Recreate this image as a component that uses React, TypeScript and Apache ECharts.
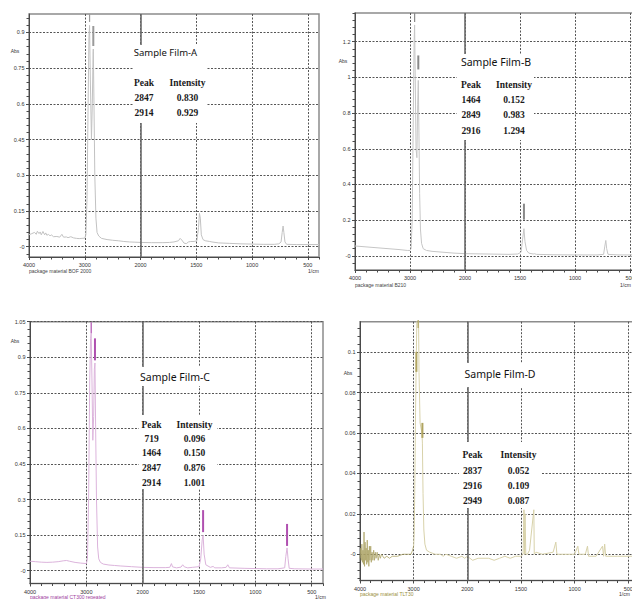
import React, { useEffect, useRef } from "react";
import * as echarts from "echarts";

// ---------- axis ticks ----------
const xTickWaves = [4000, 3000, 2000, 1500, 1000, 500];
const aYTicks = [0, 0.15, 0.3, 0.45, 0.6, 0.75, 0.9];
const bYTicks = [0, 0.2, 0.4, 0.6, 0.8, 1, 1.2];
const cYTicks = [0, 0.15, 0.3, 0.45, 0.6, 0.75, 0.9, 1.05];
const dYTicks = [0, 0.02, 0.04, 0.06, 0.08, 0.1];

// ---------- Sample Film-A ----------
const aWave = [4000, 3950, 3900, 3870, 3850, 3820, 3800, 3780, 3750, 3720, 3700, 3680, 3650, 3620, 3600, 3560, 3500, 3450, 3410, 3380, 3330, 3300, 3250, 3200, 3150, 3100, 3050, 3000, 2980, 2960, 2940, 2925, 2914, 2900, 2880, 2865, 2850, 2847, 2835, 2820, 2800, 2780, 2750, 2700, 2600, 2500, 2400, 2300, 2200, 2100, 2000, 1900, 1800, 1740, 1700, 1660, 1645, 1630, 1610, 1590, 1570, 1550, 1520, 1495, 1480, 1472, 1464, 1455, 1440, 1420, 1380, 1360, 1300, 1200, 1100, 1000, 900, 800, 760, 740, 730, 722, 715, 705, 690, 600, 500, 400];
const aAbs = [0.05, 0.055, 0.06, 0.052, 0.065, 0.055, 0.062, 0.05, 0.064, 0.05, 0.058, 0.048, 0.052, 0.045, 0.05, 0.042, 0.043, 0.04, 0.052, 0.04, 0.041, 0.038, 0.042, 0.037, 0.035, 0.034, 0.035, 0.036, 0.05, 0.2, 0.6, 0.88, 0.929, 0.7, 0.45, 0.6, 0.82, 0.83, 0.6, 0.3, 0.12, 0.06, 0.045, 0.035, 0.03, 0.027, 0.025, 0.022, 0.02, 0.019, 0.018, 0.017, 0.017, 0.018, 0.02, 0.025, 0.035, 0.028, 0.015, 0.013, 0.02, 0.022, 0.022, 0.025, 0.08, 0.14, 0.12, 0.05, 0.03, 0.025, 0.022, 0.02, 0.016, 0.014, 0.012, 0.011, 0.01, 0.01, 0.012, 0.02, 0.06, 0.087, 0.06, 0.02, 0.01, 0.009, 0.009, 0.009];
const aPeaks = [2847, 2914];
const aPeakAbs = [0.83, 0.929];

// ---------- Sample Film-B ----------
const bWave = [4000, 3800, 3600, 3400, 3200, 3050, 3000, 2980, 2960, 2940, 2925, 2916, 2905, 2890, 2875, 2860, 2849, 2838, 2825, 2810, 2790, 2760, 2700, 2600, 2400, 2200, 2000, 1800, 1600, 1520, 1490, 1475, 1464, 1455, 1440, 1420, 1380, 1370, 1350, 1200, 1000, 800, 740, 730, 720, 712, 700, 600, 400];
const bAbs = [0.055, 0.05, 0.045, 0.04, 0.035, 0.03, 0.03, 0.04, 0.2, 0.8, 1.2, 1.294, 1.0, 0.6, 0.55, 0.85, 0.983, 0.7, 0.35, 0.15, 0.07, 0.04, 0.03, 0.025, 0.02, 0.015, 0.012, 0.01, 0.008, 0.01, 0.02, 0.1, 0.152, 0.08, 0.03, 0.015, 0.01, 0.012, 0.008, 0.006, 0.005, 0.005, 0.008, 0.05, 0.086, 0.04, 0.008, 0.005, 0.005];
const bPeaks = [1464, 2849, 2916];
const bPeakAbs = [0.152, 0.983, 1.294];

// ---------- Sample Film-C ----------
const cWave = [4000, 3900, 3800, 3700, 3600, 3500, 3400, 3350, 3300, 3200, 3100, 3000, 2980, 2960, 2940, 2925, 2914, 2900, 2885, 2870, 2858, 2847, 2835, 2820, 2800, 2780, 2750, 2700, 2600, 2500, 2400, 2200, 2000, 1900, 1800, 1760, 1745, 1735, 1700, 1660, 1645, 1630, 1600, 1560, 1500, 1485, 1472, 1464, 1455, 1440, 1400, 1375, 1360, 1300, 1260, 1245, 1230, 1100, 1000, 900, 800, 740, 730, 719, 710, 700, 650, 500, 400];
const cAbs = [0.04, 0.038, 0.036, 0.035, 0.036, 0.038, 0.042, 0.043, 0.04, 0.035, 0.032, 0.03, 0.05, 0.3, 0.8, 0.98, 1.001, 0.8, 0.55, 0.65, 0.85, 0.876, 0.6, 0.3, 0.1, 0.05, 0.035, 0.028, 0.024, 0.022, 0.02, 0.017, 0.014, 0.013, 0.013, 0.014, 0.03, 0.016, 0.012, 0.015, 0.025, 0.016, 0.012, 0.014, 0.017, 0.05, 0.13, 0.15, 0.07, 0.025, 0.014, 0.018, 0.012, 0.012, 0.014, 0.025, 0.012, 0.01, 0.009, 0.008, 0.008, 0.012, 0.06, 0.096, 0.05, 0.01, 0.008, 0.007, 0.007];
const cPeaks = [719, 1464, 2847, 2914];
const cPeakAbs = [0.096, 0.15, 0.876, 1.001];

// ---------- Sample Film-D ----------
const dNoiseWave = [4000, 3985, 3975, 3965, 3955, 3945, 3935, 3925, 3915, 3905, 3895, 3885, 3875, 3865, 3855, 3845, 3835, 3825, 3815, 3800, 3790, 3775, 3760, 3745, 3730, 3715, 3700, 3680, 3660, 3640, 3620, 3600, 3550, 3500, 3450, 3400, 3300, 3200, 3100, 3050, 3020, 3000];
const dNoiseAbs = [-0.002, 0.003, -0.003, 0.005, -0.004, 0.002, -0.005, 0.011, -0.006, 0.006, -0.003, 0.003, -0.005, 0.007, -0.004, 0.002, -0.006, 0.004, -0.003, 0.004, -0.004, 0.001, -0.003, 0.002, -0.003, 0.001, -0.002, 0.001, -0.003, 0, -0.002, 0, -0.002, -0.001, -0.002, -0.001, -0.001, 0, 0, 0, 0.002, 0.004];
const dWave = [3000, 2990, 2980, 2965, 2949, 2935, 2916, 2900, 2880, 2860, 2845, 2837, 2825, 2810, 2790, 2760, 2700, 2600, 2500, 2450, 2400, 2300, 2200, 2100, 2050, 2000, 1950, 1900, 1800, 1750, 1700, 1650, 1600, 1550, 1500, 1480, 1472, 1466, 1462, 1455, 1440, 1420, 1380, 1376, 1360, 1300, 1200, 1175, 1165, 1100, 1000, 970, 960, 900, 880, 870, 800, 740, 730, 720, 710, 600, 500, 400];
const dAbs = [0.004, 0.01, 0.03, 0.07, 0.101, 0.125, 0.14, 0.09, 0.065, 0.062, 0.06, 0.055, 0.03, 0.012, 0.005, 0.002, 0.001, 0, 0, -0.001, 0, -0.001, -0.002, -0.001, -0.002, -0.001, -0.003, -0.002, -0.002, -0.003, -0.002, -0.001, -0.002, -0.001, -0.001, 0, 0.022, 0, 0.02, 0, 0, 0.002, 0.022, 0, 0.001, 0, 0.001, 0.006, 0, 0, 0, 0.004, 0, 0, 0.004, -0.001, -0.001, 0.004, -0.001, 0.005, -0.001, -0.001, -0.001, -0.001];
const dPeaks = [2837, 2916, 2949];
const dPeakAbs = [0.052, 0.109, 0.087];

// ---------- helpers ----------
const U_MAX = 2600;
function toU(w: number) {
  return w >= 2000 ? (4000 - w) / 2 : 1000 + (2000 - w);
}
function fromU(u: number) {
  return u <= 1000 ? 4000 - 2 * u : 2000 - (u - 1000);
}
function stepValues(min: number, max: number, step: number) {
  const out: number[] = [];
  for (let k = Math.ceil(min / step - 1e-9); k * step <= max + 1e-9; k++) {
    out.push(+(k * step).toFixed(6));
  }
  return out;
}
function pairs(w: number[], a: number[]) {
  return w.map((x, i) => [toU(x), a[i]]);
}

const panels = [
  {
    left: 29, top: 14, right: 313, bottom: 342,
    yMin: -0.0432, yMax: 0.977, yTicks: aYTicks, yMinor: 0.03,
    lines: [{ data: pairs(aWave, aAbs), color: "#c2c2c2", width: 1 }],
    peaks: aPeaks, peakAbs: aPeakAbs,
    tags: [[2, 20, -13], [1.2, 8, -7.5]], tagColor: "#9a9a9a",
    title: "Sample Film-A", titleX: 165.5, titleY: 52, titleSize: 9.5,
    boxes: [[133, 45, 73, 78]],
    peakX: 144, intX: 187.5, rowY: [83, 98, 113],
    rowOrder: [0, 1],
    absLabel: [15, 51], pkg: "package material BOF 2000", pkgPos: [29, 271], pkgColor: "#444",
    unitPos: [308, 271],
  },
  {
    left: 355, top: 13, right: -9, bottom: 329,
    yMin: -0.0796, yMax: 1.361, yTicks: bYTicks, yMinor: 0.04,
    lines: [{ data: pairs(bWave, bAbs), color: "#c6c6c6", width: 1 }],
    peaks: bPeaks, peakAbs: bPeakAbs,
    tags: [[2, 16, -17], [2, 14, -18], [1.2, 9, -7.5]], tagColor: "#8a8a8a",
    title: "Sample Film-B", titleX: 496, titleY: 62, titleSize: 10.5,
    boxes: [[457, 54, 77, 86]],
    peakX: 471, intX: 514, rowY: [85, 100, 115, 130.5],
    rowOrder: [0, 1, 2],
    absLabel: [343, 61], pkg: "package material B210", pkgPos: [355, 285], pkgColor: "#444",
    unitPos: [620, 285],
  },
  {
    left: 30, top: 321.7, right: 309, bottom: 15.5,
    yMin: -0.054, yMax: 1.05, yTicks: cYTicks, yMinor: 0.03,
    lines: [{ data: pairs(cWave, cAbs), color: "#dcb4dc", width: 1 }],
    peaks: cPeaks, peakAbs: cPeakAbs,
    tags: [[2, 22, -13], [2, 22, -14], [2, 22, -13.6], [1.2, 11, -5.5]], tagColor: "#b050b0",
    title: "Sample Film-C", titleX: 175, titleY: 377, titleSize: 10.5,
    boxes: [[137, 367, 76, 19], [139, 415, 78, 74]],
    peakX: 151.5, intX: 194.5, rowY: [424.5, 438.5, 453.3, 468.3, 482.7],
    rowOrder: [0, 1, 2, 3],
    absLabel: [15, 341], pkg: "package material CT300 repeated", pkgPos: [30, 597.3], pkgColor: "#a040a0",
    unitPos: [315, 597.3],
  },
  {
    left: 360, top: 321.7, right: -7, bottom: 18.5,
    yMin: -0.013, yMax: 0.1151, yTicks: dYTicks, yMinor: 0.004,
    lines: [
      { data: pairs(dNoiseWave, dNoiseAbs), color: "#ada468", width: 0.8 },
      { data: pairs(dWave, dAbs), color: "#d8d2aa", width: 1 },
    ],
    peaks: dPeaks, peakAbs: dPeakAbs,
    tags: [[2, 15, -18.8], [1.2, 8, -10], [2, 20, -16.6]], tagColor: "#b0a460",
    title: "Sample Film-D", titleX: 500, titleY: 374, titleSize: 10.5,
    boxes: [[461, 363, 78, 24], [459, 442, 82, 66]],
    peakX: 472.5, intX: 518.5, rowY: [455, 470.7, 485.7, 501],
    rowOrder: [0, 1, 2],
    absLabel: [348, 373], pkg: "package material TLT30", pkgPos: [360, 594], pkgColor: "#9b9040",
    unitPos: [619, 594],
  },
];

const AXIS_COLOR = "#4a4a4a";
const GRID_LINE = { color: "#555", type: [2, 1.5] as any, width: 1 };
const SANS = "Liberation Sans";

function buildOption() {
  const grid: any[] = [];
  const xAxis: any[] = [];
  const yAxis: any[] = [];
  const series: any[] = [];
  const elements: any[] = [];
  const xMajor = xTickWaves.map(toU);
  const xMinor = stepValues(0, U_MAX, 100);

  panels.forEach((p, i) => {
    grid.push({
      left: p.left, top: p.top, right: p.right, bottom: p.bottom,
      show: true, borderColor: "#8c8c8c", borderWidth: 1.5,
      backgroundColor: "transparent", containLabel: false, outerBoundsMode: "none",
    });
    xAxis.push({
      type: "value", gridIndex: i, position: "bottom", min: 0, max: U_MAX,
      axisLine: { show: true, onZero: false, lineStyle: { color: AXIS_COLOR, width: 1 } },
      axisTick: { show: true, length: 3, customValues: xMajor, lineStyle: { color: AXIS_COLOR } },
      axisLabel: {
        show: true, customValues: xMajor, margin: 5, fontSize: 5.5, color: "#333", fontFamily: SANS,
        formatter: (v: number) => String(Math.round(fromU(v))),
      },
      splitLine: { show: true, lineStyle: GRID_LINE },
    });
    xAxis.push({
      type: "value", gridIndex: i, position: "bottom", min: 0, max: U_MAX,
      axisLine: { show: false, onZero: false },
      axisTick: { show: true, length: 2.5, customValues: xMinor, lineStyle: { color: AXIS_COLOR } },
      axisLabel: { show: false },
      splitLine: { show: false },
    });
    yAxis.push({
      type: "value", gridIndex: i, position: "left", min: p.yMin, max: p.yMax,
      axisLine: { show: true, onZero: false, lineStyle: { color: AXIS_COLOR, width: 1 } },
      axisTick: { show: true, length: 3, customValues: p.yTicks, lineStyle: { color: AXIS_COLOR } },
      axisLabel: {
        show: true, customValues: p.yTicks, margin: 4.5, fontSize: 5.5, color: "#333", fontFamily: SANS,
        formatter: (v: number) => (Math.abs(v) < 1e-9 ? "-0" : String(+v.toFixed(4))),
      },
      splitLine: { show: true, lineStyle: GRID_LINE },
    });
    yAxis.push({
      type: "value", gridIndex: i, position: "left", min: p.yMin, max: p.yMax,
      axisLine: { show: false, onZero: false },
      axisTick: { show: true, length: 2.5, customValues: stepValues(p.yMin, p.yMax, p.yMinor), lineStyle: { color: AXIS_COLOR } },
      axisLabel: { show: false },
      splitLine: { show: false },
    });

    p.lines.forEach((ln, k) => {
      const s: any = {
        type: "line", xAxisIndex: 2 * i, yAxisIndex: 2 * i, data: ln.data,
        showSymbol: false, symbol: "none", silent: true, z: 3,
        lineStyle: { color: ln.color, width: ln.width }, itemStyle: { color: ln.color },
      };
      if (k === p.lines.length - 1) {
        s.markLine = {
          silent: true, symbol: ["none", "none"], label: { show: false },
          lineStyle: { type: "solid", color: "#6a6a6a", width: 1.6 },
          data: [{ xAxis: toU(2000) }],
        };
        s.markPoint = {
          silent: true, symbol: "rect", label: { show: false },
          itemStyle: { color: p.tagColor },
          data: p.peaks.map((w, j) => ({
            coord: [toU(w), p.peakAbs[j]],
            symbolSize: [p.tags[j][0], p.tags[j][1]],
            symbolOffset: [0, p.tags[j][2]],
          })),
        };
      }
      series.push(s);
    });

    p.boxes.forEach((b) => {
      elements.push({ type: "rect", z: 100, shape: { x: b[0], y: b[1], width: b[2], height: b[3] }, style: { fill: "#ffffff" } });
    });
    const txt = (text: string, x: number, y: number, font: string, fill: string, align = "center") => ({
      type: "text", z: 110, x, y,
      style: { text, font, fill, align, verticalAlign: "middle", textAlign: align, textVerticalAlign: "middle" },
    });
    elements.push(txt(p.title, p.titleX, p.titleY, `${p.titleSize}px "Noto Sans"`, "#111"));
    const tFont = 'bold 9.5px "Liberation Serif"';
    elements.push(txt("Peak", p.peakX, p.rowY[0], tFont, "#1a1a1a"));
    elements.push(txt("Intensity", p.intX, p.rowY[0], tFont, "#1a1a1a"));
    p.rowOrder.forEach((j, r) => {
      elements.push(txt(String(p.peaks[j]), p.peakX, p.rowY[r + 1], tFont, "#1a1a1a"));
      elements.push(txt(p.peakAbs[j].toFixed(3), p.intX, p.rowY[r + 1], tFont, "#1a1a1a"));
    });
    elements.push(txt("Abs", p.absLabel[0], p.absLabel[1], `5px "${SANS}"`, "#333"));
    elements.push(txt(p.pkg, p.pkgPos[0], p.pkgPos[1], `5px "${SANS}"`, p.pkgColor, "left"));
    elements.push(txt("1/cm", p.unitPos[0], p.unitPos[1], `5px "${SANS}"`, "#333", "left"));
  });

  return {
    animation: false,
    backgroundColor: "#ffffff",
    grid, xAxis, yAxis, series,
    graphic: { elements },
  };
}

export default function App() {
  const ref = useRef<HTMLDivElement>(null);
  useEffect(() => {
    if (!ref.current) return;
    const chart = echarts.init(ref.current, undefined, { renderer: "svg" });
    chart.setOption(buildOption() as any);
    return () => chart.dispose();
  }, []);
  return (
    <div
      ref={ref}
      style={{ position: "fixed", left: 0, top: 0, width: 632, height: 599, background: "#fff" }}
    />
  );
}
